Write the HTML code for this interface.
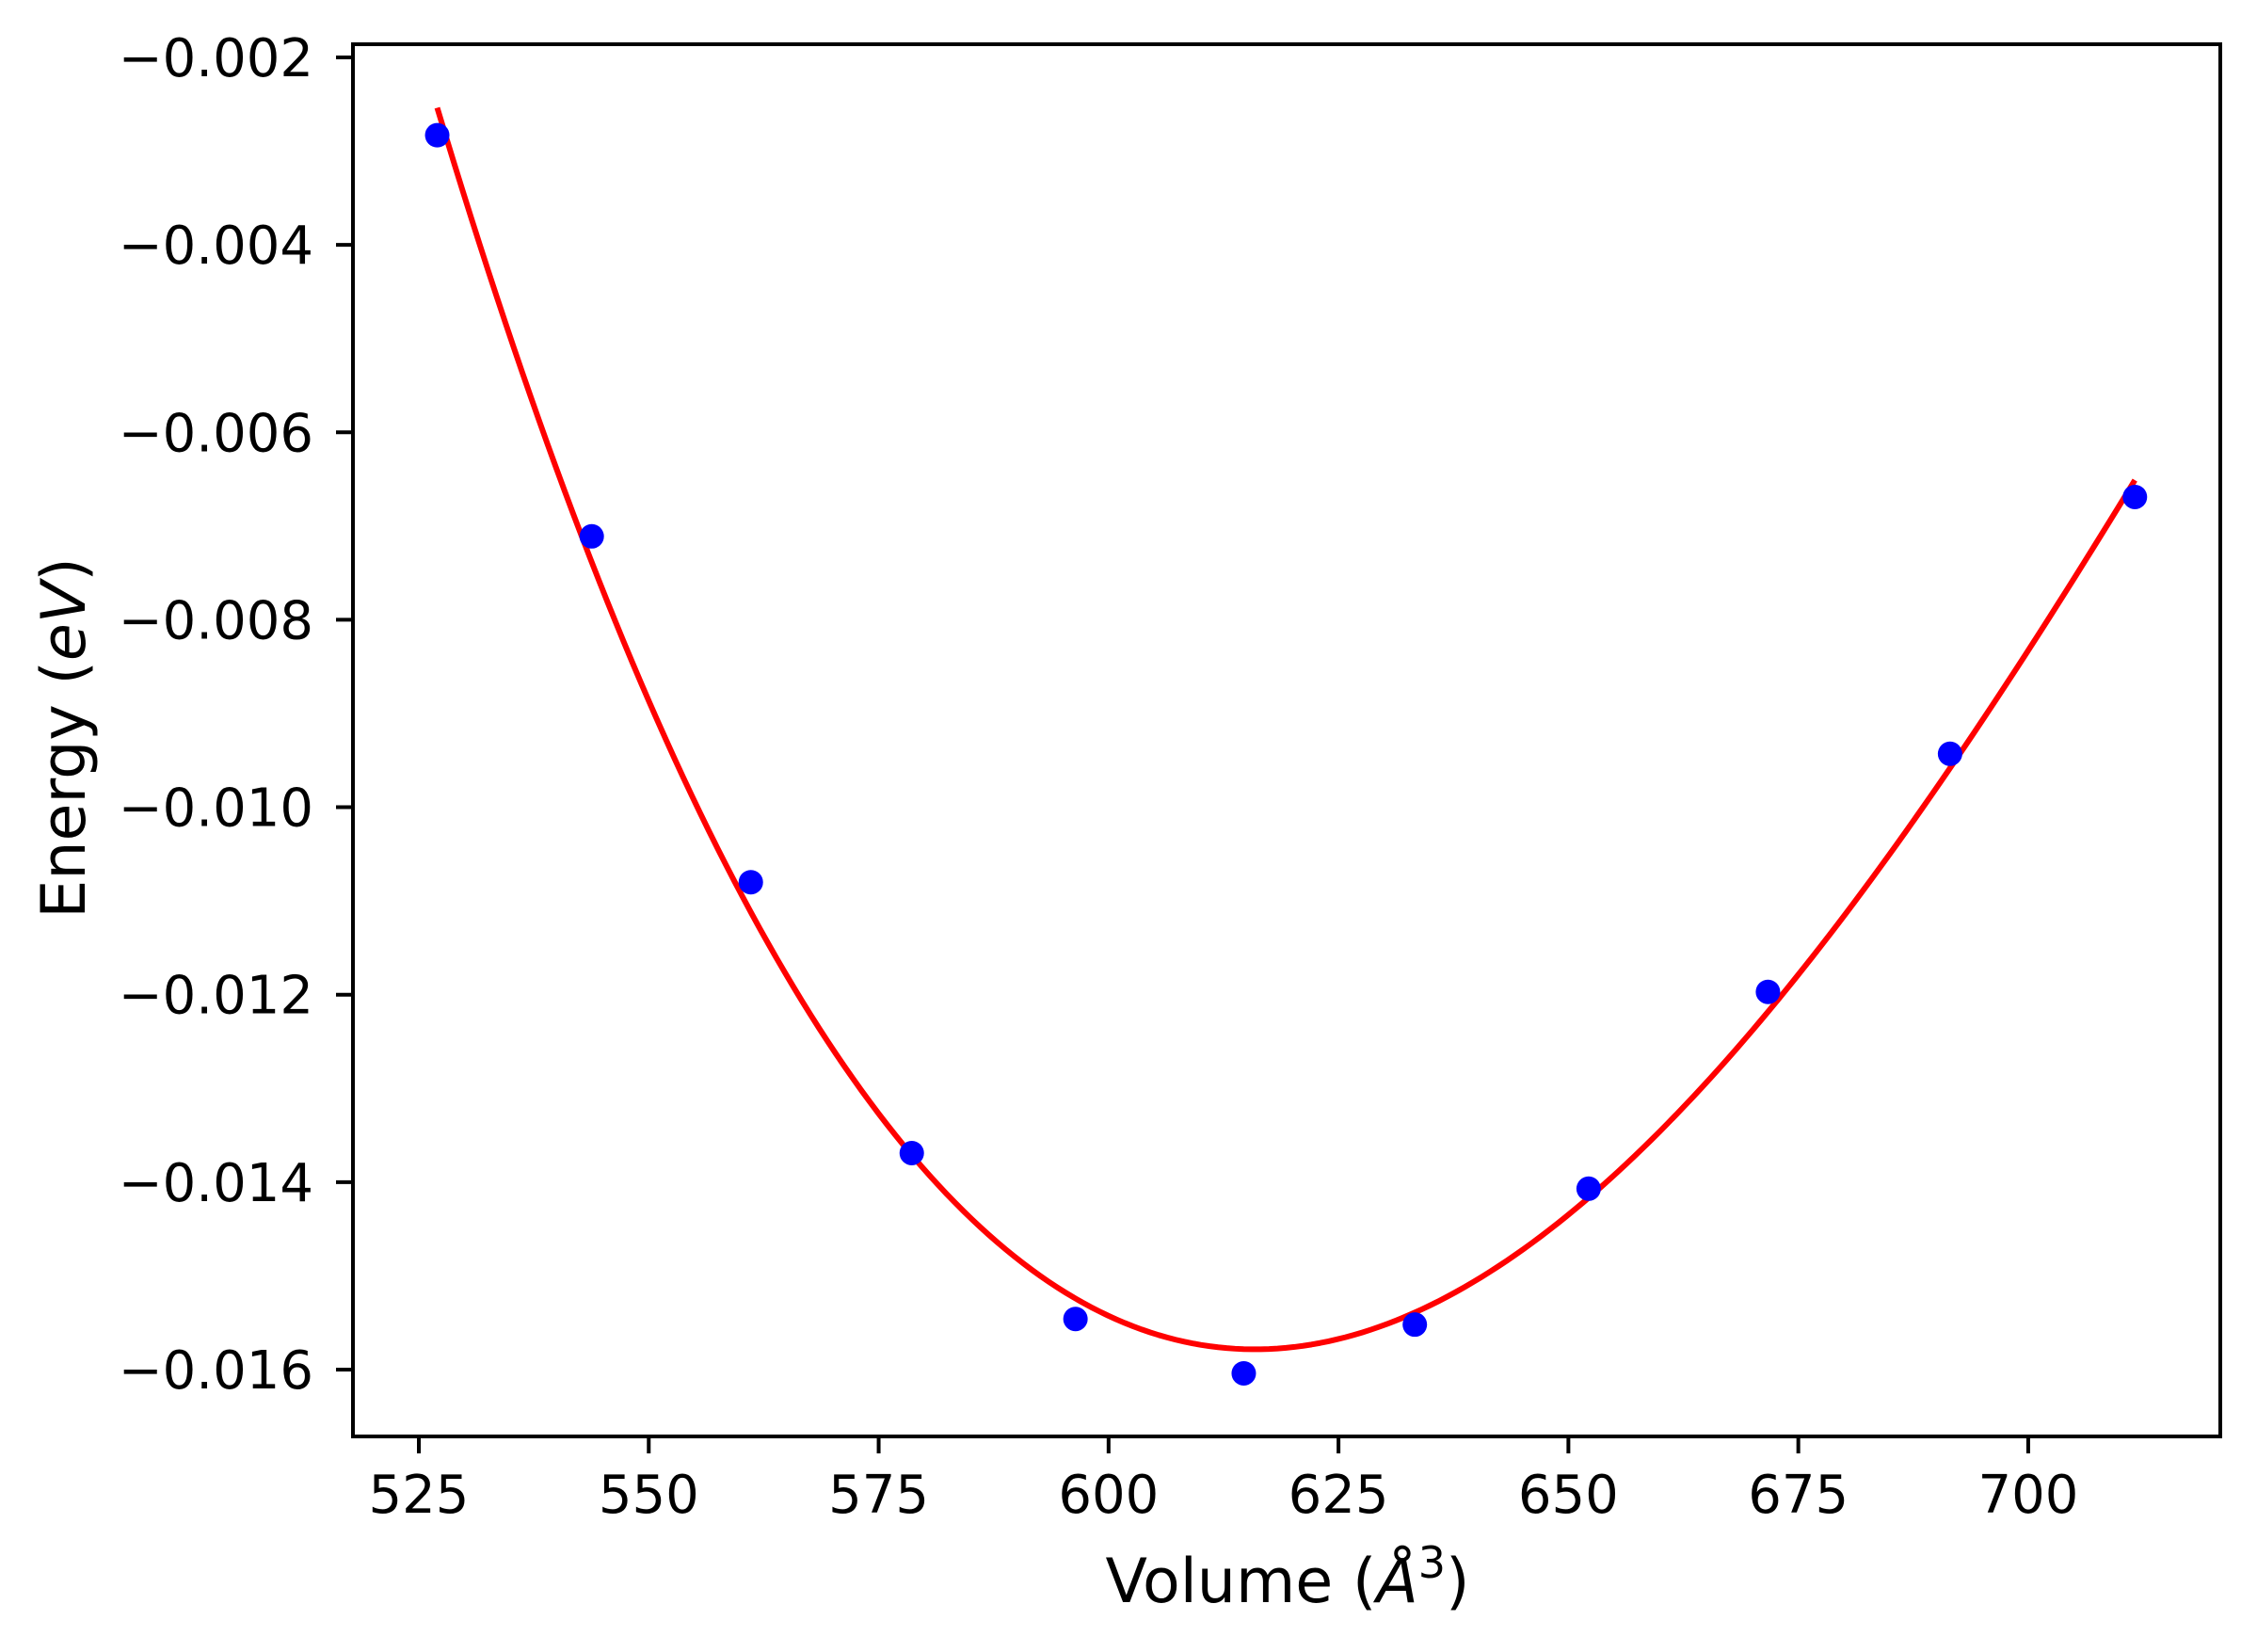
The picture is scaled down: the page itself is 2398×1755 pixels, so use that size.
<!DOCTYPE html>
<html><head><meta charset="utf-8"><style>
html,body{margin:0;padding:0;background:#fff;}
svg{display:block;font-family:"DejaVu Sans","Liberation Sans",sans-serif;}
</style></head><body>
<svg id="chart" width="2398" height="1755" viewBox="0 0 2398 1755" xmlns="http://www.w3.org/2000/svg">
<rect width="2398" height="1755" fill="#fff"/>
<path id="fit" fill="none" stroke="#ff0000" stroke-width="6" stroke-linejoin="round"/>
<g id="pts"></g>
<rect x="375" y="47" width="1984" height="1479" fill="none" stroke="#000" stroke-width="4"/>
<g id="xt"></g>
<g id="yt"></g>
<text x="1368" y="1702" font-size="65" text-anchor="middle">Volume (<tspan font-style="italic">Å</tspan><tspan font-size="46" dy="-26">3</tspan><tspan dy="26">)</tspan></text>
<text transform="translate(90,784) rotate(-90)" font-size="65" text-anchor="middle">Energy (<tspan font-style="italic">eV</tspan>)</text>
</svg>
<script>
const volumes=[527.0,543.8,561.1,578.6,596.4,614.7,633.3,652.2,671.7,691.5,711.6];
const energies=[-0.00283,-0.00711,-0.0108,-0.01369,-0.01546,-0.01604,-0.01552,-0.01407,-0.01197,-0.00943,-0.00669];
const xTicks=[525,550,575,600,625,650,675,700];
const yTicks=[-0.002,-0.004,-0.006,-0.008,-0.010,-0.012,-0.014,-0.016];
const NS="http://www.w3.org/2000/svg";
const xs=v=>445+(v-525)*9.771;
const ys=e=>61+(-0.002-e)*99570;
function mk(tag,attrs,parent){const el=document.createElementNS(NS,tag);for(const k in attrs)el.setAttribute(k,attrs[k]);parent.appendChild(el);return el;}
// cubic least-squares fit of the data (as in the original fitted curve)
function polyfit(X,Y,deg){
  const n=deg+1,m0=620,sc=100;
  const A=[];for(let i=0;i<n;i++){A.push(new Array(n+1).fill(0));}
  X.forEach((x0,k)=>{const x=(x0-m0)/sc;for(let i=0;i<n;i++){for(let j=0;j<n;j++)A[i][j]+=Math.pow(x,i+j);A[i][n]+=Y[k]*Math.pow(x,i);}});
  for(let i=0;i<n;i++){let p=i;for(let r=i+1;r<n;r++)if(Math.abs(A[r][i])>Math.abs(A[p][i]))p=r;[A[i],A[p]]=[A[p],A[i]];
    for(let r=0;r<n;r++){if(r===i)continue;const f=A[r][i]/A[i][i];for(let c=i;c<=n;c++)A[r][c]-=f*A[i][c];}}
  const co=A.map((row,i)=>row[n]/row[i]);
  return v=>{const x=(v-m0)/sc;let s=0;for(let i=0;i<n;i++)s+=co[i]*Math.pow(x,i);return s;};
}
const f=polyfit(volumes,energies,3);
const vmin=Math.min(...volumes),vmax=Math.max(...volumes);
let d="";
for(let i=0;i<=200;i++){const v=vmin+(vmax-vmin)*i/200;d+=(i?"L":"M")+xs(v).toFixed(2)+","+ys(f(v)).toFixed(2);}
document.getElementById('fit').setAttribute('d',d);
const pts=document.getElementById('pts');
volumes.forEach((v,i)=>{
  const c=mk('circle',{cx:xs(v),cy:ys(energies[i]),r:13,fill:'#0000ff'},pts);
  
  
});
const xt=document.getElementById('xt');
xTicks.forEach(t=>{
  const x=xs(t);
  const l=mk('line',{x1:x,x2:x,y1:1526,y2:1544,stroke:'#000','stroke-width':4},xt);
  
  
  const tx=mk('text',{x:x,y:1607,'font-size':56,'text-anchor':'middle'},xt);
  
  
  tx.textContent=String(t);
});
const yt=document.getElementById('yt');
yTicks.forEach(t=>{
  const y=ys(t);
  const l=mk('line',{x1:357,x2:375,y1:y,y2:y,stroke:'#000','stroke-width':4},yt);
  
  
  const tx=mk('text',{x:333,y:y+20,'font-size':56,'text-anchor':'end'},yt);
  
  
  tx.textContent="\u2212"+Math.abs(t).toFixed(3);
});
</script>
</body></html>
